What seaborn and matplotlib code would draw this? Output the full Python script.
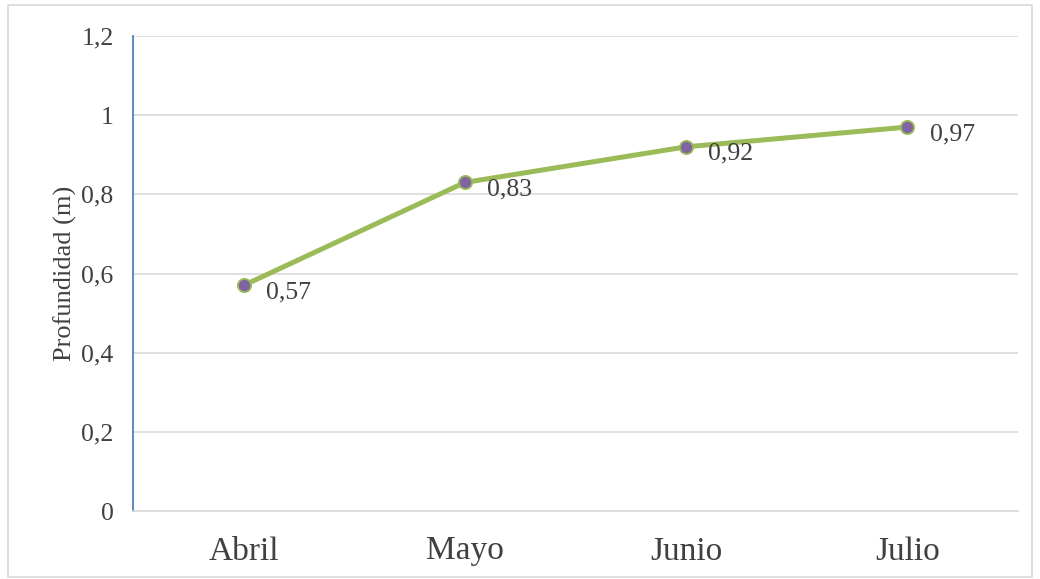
import matplotlib
matplotlib.use("Agg")
import matplotlib.pyplot as plt
import seaborn as sns
import pandas as pd
from matplotlib.patches import Rectangle

meses = ["Abril", "Mayo", "Junio", "Julio"]
profundidad = [0.57, 0.83, 0.92, 0.97]
y_ticks = [0, 0.2, 0.4, 0.6, 0.8, 1.0, 1.2]
y_tick_labels = ["0", "0,2", "0,4", "0,6", "0,8", "1", "1,2"]

sns.set_theme(style="white")
plt.rcParams["font.family"] = ["Liberation Serif", "DejaVu Serif"]

df = pd.DataFrame({"mes": meses, "prof": profundidad})

fig = plt.figure(figsize=(10.4, 5.79), dpi=100)
ax = fig.add_axes([133 / 1040, 1 - 511 / 579, (1018 - 133) / 1040, (511 - 36) / 579])

# outer chart frame
fig.patches.append(Rectangle((8 / 1040, 2 / 579), 1024 / 1040, 572 / 579,
                             transform=fig.transFigure, fill=False,
                             edgecolor="#D9D9D9", linewidth=1.2))

sns.lineplot(data=df, x="mes", y="prof", ax=ax, sort=False,
             color="#9BBB59", linewidth=3.6, marker="o", markersize=9.5,
             markerfacecolor="#8064A2", markeredgecolor="#9BBB59",
             markeredgewidth=1.3, zorder=3)

for i, v in enumerate(profundidad):
    ax.annotate(f"{v:.2f}".replace(".", ","), (i, v), xytext=(16, -5),
                textcoords="offset points", ha="left", va="center",
                fontsize=18.5, color="#404040")

ax.set_xlim(-0.5, 3.5)
ax.set_ylim(0, 1.2)
ax.set_yticks(y_ticks)
ax.set_yticklabels(y_tick_labels)
ax.grid(axis="y", color="#D9D9D9", linewidth=1.2)
ax.set_axisbelow(True)

for side in ["top", "right"]:
    ax.spines[side].set_visible(False)
ax.spines["left"].set_color("#4F81BD")
ax.spines["left"].set_linewidth(1.3)
ax.spines["bottom"].set_color("#D9D9D9")
ax.spines["bottom"].set_linewidth(1.2)

ax.tick_params(axis="y", direction="in", length=6, width=1.3, color="#4F81BD",
               labelsize=18.5, labelcolor="#404040", pad=14)
ax.tick_params(axis="x", length=0, labelsize=24, labelcolor="#404040", pad=18)

ax.set_xlabel("")
ax.set_ylabel("Profundidad (m)", fontsize=19, color="#404040", labelpad=3)

fig.savefig("out.png", dpi=100)
